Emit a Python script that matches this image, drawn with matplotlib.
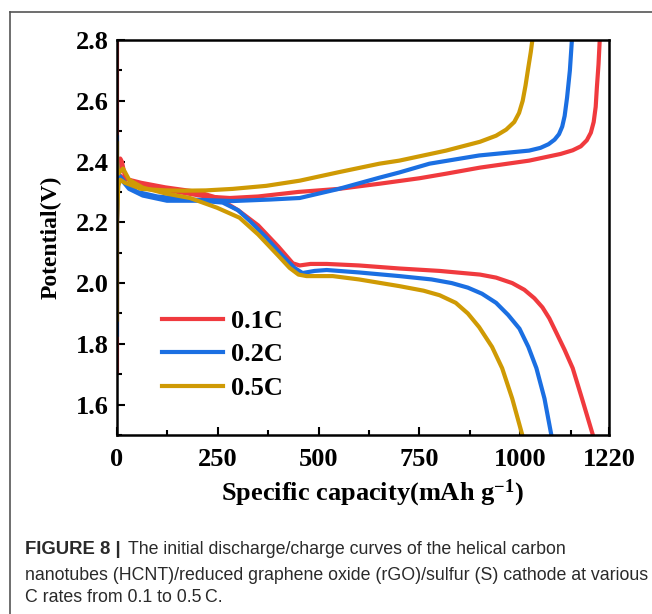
import matplotlib
matplotlib.use("Agg")
import matplotlib.pyplot as plt
from matplotlib.lines import Line2D
from matplotlib.ticker import MultipleLocator, FixedLocator

plt.rcParams['font.family'] = ['Liberation Serif', 'DejaVu Serif']
plt.rcParams['font.weight'] = 'bold'
plt.rcParams['mathtext.fontset'] = 'custom'
plt.rcParams['mathtext.rm'] = 'Liberation Serif:bold'
plt.rcParams['mathtext.bf'] = 'Liberation Serif:bold'
plt.rcParams['mathtext.default'] = 'bf'

# ---- data ----
rates = ["0.1C", "0.2C", "0.5C"]
colors = ['#F03A3E', '#1B6FE2', '#CF9A04']

# discharge curves (capacity, voltage)
red_dis_x = [0, 0, 3, 15, 60, 120, 200, 250, 300, 350, 400, 436, 453, 480, 520, 600, 700, 800, 900, 940,
             980, 1010, 1035, 1055, 1072, 1090, 1110, 1130, 1153, 1180]
red_dis_y = [2.8, 2.40, 2.36, 2.345, 2.33, 2.315, 2.30, 2.28, 2.24, 2.19, 2.12, 2.065, 2.058, 2.063, 2.063,
             2.058, 2.048, 2.04, 2.028, 2.018, 2.0, 1.978, 1.95, 1.92, 1.884, 1.835, 1.78, 1.72, 1.62, 1.5]

blue_dis_x = [0, 0, 3, 7, 30, 64, 124, 205, 262, 300, 329, 370, 410, 440, 460, 490, 520, 600, 700, 780,
              830, 870, 905, 940, 970, 998, 1020, 1040, 1060, 1077]
blue_dis_y = [2.48, 2.40, 2.36, 2.347, 2.31, 2.288, 2.271, 2.271, 2.265, 2.24, 2.205, 2.15, 2.09, 2.05,
              2.033, 2.04, 2.043, 2.035, 2.023, 2.012, 2.0, 1.985, 1.965, 1.935, 1.895, 1.85, 1.79, 1.72,
              1.62, 1.50]

gold_dis_x = [0, 0, 3, 15, 30, 64, 120, 181, 248, 304, 350, 400, 428, 450, 470, 535, 600, 700, 760, 800,
              840, 870, 898, 930, 955, 980, 1005]
gold_dis_y = [2.46, 2.40, 2.36, 2.377, 2.34, 2.314, 2.295, 2.28, 2.248, 2.215, 2.16, 2.09, 2.05, 2.028,
              2.023, 2.023, 2.012, 1.99, 1.975, 1.96, 1.935, 1.9, 1.855, 1.79, 1.72, 1.62, 1.50]

# charge curves (capacity, voltage)
red_chg_x = [0, 0, 3, 8, 12, 20, 40, 80, 150, 220, 280, 350, 450, 550, 651, 750, 816, 900, 1022, 1100,
             1130, 1150, 1165, 1175, 1182, 1187, 1190, 1194, 1197]
red_chg_y = [1.71, 2.2, 2.36, 2.41, 2.40, 2.35, 2.33, 2.315, 2.30, 2.285, 2.28, 2.285, 2.30, 2.31, 2.327,
             2.345, 2.36, 2.38, 2.403, 2.425, 2.437, 2.45, 2.47, 2.495, 2.53, 2.58, 2.645, 2.72, 2.8]

blue_chg_x = [0, 0, 3, 8, 20, 50, 100, 180, 287, 380, 453, 550, 651, 700, 775, 898, 1022, 1050, 1070,
              1085, 1096, 1104, 1110, 1116, 1123, 1128]
blue_chg_y = [1.83, 2.2, 2.33, 2.35, 2.33, 2.30, 2.285, 2.275, 2.27, 2.275, 2.28, 2.31, 2.347, 2.364,
              2.393, 2.42, 2.436, 2.445, 2.457, 2.472, 2.49, 2.515, 2.55, 2.61, 2.70, 2.8]

gold_chg_x = [0, 0, 3, 8, 20, 60, 120, 163, 220, 287, 370, 453, 550, 651, 700, 816, 900, 940, 965,
              985, 997, 1006, 1013, 1020, 1026, 1030]
gold_chg_y = [1.88, 2.2, 2.32, 2.34, 2.33, 2.31, 2.305, 2.304, 2.305, 2.31, 2.32, 2.337, 2.365, 2.393,
              2.403, 2.436, 2.465, 2.485, 2.505, 2.53, 2.56, 2.6, 2.65, 2.71, 2.76, 2.8]

x_ticks = [0, 250, 500, 750, 1000, 1220]
y_ticks = [1.6, 1.8, 2.0, 2.2, 2.4, 2.6, 2.8]

fig = plt.figure(figsize=(6.52, 6.14), dpi=100)

# page frame lines (top and left)
fig.add_artist(Line2D([10 / 652, 1], [1 - 12 / 614, 1 - 12 / 614], color='#555555', lw=1.2))
fig.add_artist(Line2D([10 / 652, 10 / 652], [0, 1 - 12 / 614], color='#555555', lw=1.2))

ax = fig.add_axes([117 / 652, 179 / 614, 492 / 652, 395 / 614])

curves = [(red_dis_x, red_dis_y, red_chg_x, red_chg_y),
          (blue_dis_x, blue_dis_y, blue_chg_x, blue_chg_y),
          (gold_dis_x, gold_dis_y, gold_chg_x, gold_chg_y)]
for (dx, dy, cx, cy), c, lab in zip(curves, colors, rates):
    ax.plot(dx, dy, color=c, lw=3.0, solid_joinstyle='round', label=lab)
    ax.plot(cx, cy, color=c, lw=3.0, solid_joinstyle='round')

ax.set_xlim(0, 1220)
ax.set_ylim(1.5, 2.8)
ax.xaxis.set_major_locator(FixedLocator(x_ticks))
ax.xaxis.set_minor_locator(FixedLocator([125, 375, 625, 875, 1125]))
ax.yaxis.set_major_locator(FixedLocator(y_ticks))
ax.yaxis.set_minor_locator(MultipleLocator(0.1))
ax.set_xticklabels([str(t) for t in x_ticks])
ax.set_yticklabels(['%.1f' % t for t in y_ticks])
ax.tick_params(which='both', direction='in', width=1.5, labelsize=19)
ax.tick_params(axis='x', which='major', length=6, pad=9)
ax.tick_params(axis='y', which='major', length=6, pad=6)
ax.tick_params(which='minor', length=3.5)
for s in ax.spines.values():
    s.set_linewidth(1.8)

ax.set_xlabel(r'Specific capacity(mAh g$^{-1}$)', fontsize=19, fontweight='bold', labelpad=5)
ax.xaxis.label.set_x(0.52)
ax.set_ylabel('Potential(V)', fontsize=17, fontweight='bold', labelpad=10)

leg = ax.legend(loc='upper left', bbox_to_anchor=(0.0915, 0.318), frameon=False, fontsize=19,
                handlelength=2.3, handletextpad=0.3, labelspacing=0.38, borderpad=0, borderaxespad=0)

# caption
cap_kw = dict(fontsize=12.8, family=['Liberation Sans', 'DejaVu Sans'], color='#2a2a2a')
fig.text(25 / 652, 1 - 550 / 614, 'FIGURE 8 |', va='center', ha='left', fontweight='bold',
         **dict(cap_kw, fontsize=13.3))
fig.text(128 / 652, 1 - 550 / 614, 'The initial discharge/charge curves of the helical carbon',
         va='center', ha='left', fontweight='normal', **cap_kw)
fig.text(25 / 652, 1 - 575 / 614,
         'nanotubes (HCNT)/reduced graphene oxide (rGO)/sulfur (S) cathode at various',
         va='center', ha='left', fontweight='normal', **cap_kw)
fig.text(25 / 652, 1 - 598 / 614, 'C rates from 0.1 to 0.5\u2009C.', va='center', ha='left',
         fontweight='normal', **cap_kw)

fig.savefig('out.png', dpi=100)
